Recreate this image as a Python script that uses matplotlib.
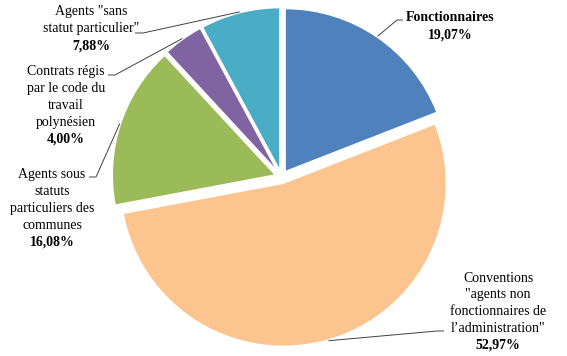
import matplotlib.pyplot as plt
import numpy as np

plt.rcParams["font.family"] = ["Liberation Serif", "DejaVu Serif"]

# data, clockwise from 12 o'clock
names = [
    ["Fonctionnaires"],
    ["Conventions", "\"agents non", "fonctionnaires de", "l\u2019administration\""],
    ["Agents sous", "statuts", "particuliers des", "communes"],
    ["Contrats régis", "par le code du", "travail", "polynésien"],
    ["Agents \"sans", "statut particulier\""],
]
pcts = [19.07, 52.97, 16.08, 4.00, 7.88]
bold_name = [True, False, False, False, False]
colors = ["#4F81BD", "#FCC590", "#9BBB59", "#8064A2", "#4BACC6"]

# layout in pixels of the 567x356 image: pie centre and radius
W, H = 567, 356
cx, cy, R = 281.5, 177, 163
# label block: centre x, first line y
label_pos = [(450, 18), (498, 278), (52, 175), (66, 72), (91, 12)]
# leader elbow point and the short horizontal tail toward the text
leader_elbow = [(397, 20), (437, 331), (96, 177), (115, 75), (143, 33)]
leader_tail = [6, 7, -7, -7, -8]
line_step = 16.8


def px(x, y):
    return (x - cx) / R, (cy - y) / R


fig = plt.figure(figsize=(W / 100, H / 100), dpi=100)
ax = fig.add_axes([0, 0, 1, 1])
wedges, _ = ax.pie(pcts, colors=colors, startangle=90, counterclock=False,
                   explode=[0.04] * 5, radius=1,
                   wedgeprops=dict(edgecolor="white", linewidth=1))
ax.set_xlim(-cx / R, (W - cx) / R)
ax.set_ylim(-(H - cy) / R, cy / R)
ax.set_aspect("auto")
ax.axis("off")

for i, w in enumerate(wedges):
    # leader line from the middle of the outer arc to the label
    mid = np.deg2rad((w.theta1 + w.theta2) / 2)
    x0 = w.center[0] + np.cos(mid) * (w.r + 0.005)
    y0 = w.center[1] + np.sin(mid) * (w.r + 0.005)
    ex, ey = leader_elbow[i]
    x1, y1 = px(ex, ey)
    x2, y2 = px(ex + leader_tail[i], ey)
    ax.plot([x0, x1, x2], [y0, y1, y2], color="#404040", lw=0.7,
            solid_capstyle="butt")

    lx, ly = label_pos[i]
    lines = names[i] + ["{:.2f}%".format(pcts[i]).replace(".", ",")]
    for j, s in enumerate(lines):
        is_bold = bold_name[i] or j == len(lines) - 1
        tx, ty = px(lx, ly + j * line_step)
        ax.text(tx, ty, s, ha="center", va="center", fontsize=10,
                fontweight="bold" if is_bold else "normal", color="black")

fig.savefig("out.png", dpi=100)
